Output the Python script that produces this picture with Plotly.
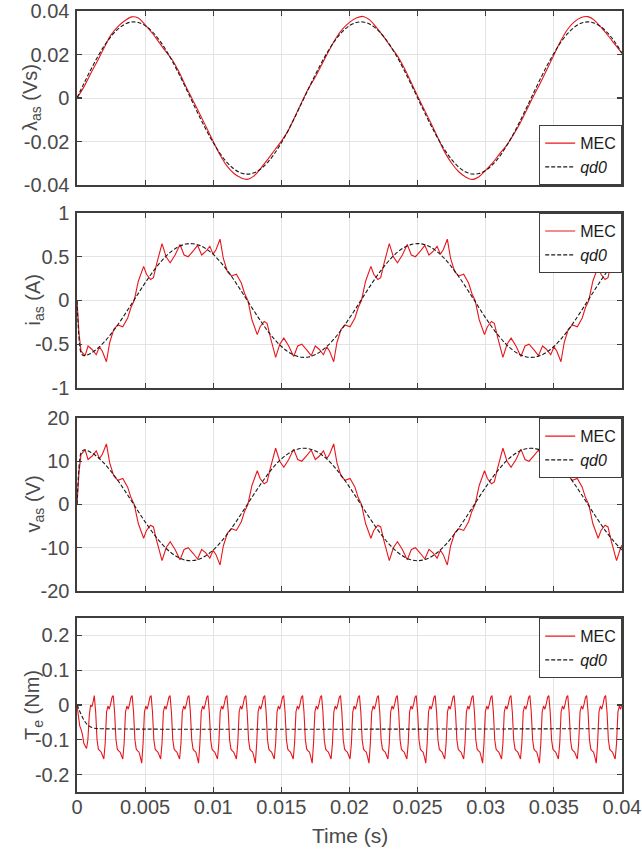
import plotly.graph_objects as go

# ---------------- data ----------------
T_FLUX = [0.0, 0.0005, 0.001, 0.0015, 0.002, 0.0025, 0.003, 0.0035, 0.004, 0.0045, 0.005, 0.0055, 0.006, 0.0065,
          0.007, 0.0075, 0.008, 0.0085, 0.009, 0.0095, 0.01, 0.0105, 0.011, 0.0115, 0.012, 0.0125, 0.013, 0.0135,
          0.014, 0.0145, 0.015, 0.0155, 0.016, 0.0165, 0.017, 0.0175, 0.018, 0.0185, 0.019, 0.0195, 0.02, 0.0205,
          0.021, 0.0215, 0.022, 0.0225, 0.023, 0.0235, 0.024, 0.0245, 0.025, 0.0255, 0.026, 0.0265, 0.027, 0.0275,
          0.028, 0.0285, 0.029, 0.0295, 0.03, 0.0305, 0.031, 0.0315, 0.032, 0.0325, 0.033, 0.0335, 0.034, 0.0345,
          0.035, 0.0355, 0.036, 0.0365, 0.037, 0.0375, 0.038, 0.0385, 0.039, 0.0395, 0.04]

LAMBDA_QD0 = [0, 0.00656, 0.01288, 0.01875, 0.02396, 0.02832, 0.03167, 0.0339, 0.03493, 0.03472, 0.03329, 0.03067,
              0.02697, 0.02231, 0.01686, 0.01082, 0.00439, -0.0022, -0.0087, -0.0149, -0.02057, -0.02552, -0.02955,
              -0.03254, -0.03438, -0.035, -0.03438, -0.03254, -0.02955, -0.02552, -0.02057, -0.0149, -0.0087,
              -0.0022, 0.00439, 0.01082, 0.01686, 0.02231, 0.02697, 0.03067, 0.03329, 0.03472, 0.03493, 0.0339,
              0.03167, 0.02832, 0.02396, 0.01875, 0.01288, 0.00656, 0.0, -0.00656, -0.01288, -0.01875, -0.02396,
              -0.02832, -0.03167, -0.0339, -0.03493, -0.03472, -0.03329, -0.03067, -0.02697, -0.02231, -0.01686,
              -0.01082, -0.00439, 0.0022, 0.0087, 0.0149, 0.02057, 0.02552, 0.02955, 0.03254, 0.03438, 0.035,
              0.03438, 0.03254, 0.02955, 0.02552, 0.02057]

LAMBDA_MEC = [0, 0.005, 0.0112, 0.017, 0.0232, 0.029, 0.0328, 0.0355, 0.0373, 0.0368, 0.0336, 0.03, 0.0258, 0.0215,
              0.0175, 0.0118, 0.0052, -0.001, -0.0072, -0.0135, -0.02, -0.0262, -0.0312, -0.0346, -0.0366, -0.0374,
              -0.0358, -0.0322, -0.0282, -0.024, -0.0198, -0.015, -0.0085, -0.0018, 0.0045, 0.0098, 0.0158, 0.0218,
              0.0275, 0.0318, 0.0348, 0.0368, 0.0375, 0.0358, 0.0322, 0.0282, 0.0238, 0.0195, 0.014, 0.0075, 0.0008,
              -0.0055, -0.0118, -0.0185, -0.025, -0.03, -0.0338, -0.0362, -0.0375, -0.0362, -0.0332, -0.0298,
              -0.0258, -0.022, -0.0172, -0.0118, -0.0055, 0.0008, 0.0068, 0.0132, 0.0198, 0.0262, 0.0315, 0.035,
              0.037, 0.0374, 0.0356, 0.0322, 0.0285, 0.0245, 0.0205]

T_QD_IV = [0.0, 0.0001, 0.0002, 0.0003, 0.0005, 0.001, 0.0015, 0.002, 0.0025, 0.003, 0.0035, 0.004, 0.0045, 0.005,
           0.0055, 0.006, 0.0065, 0.007, 0.0075, 0.008, 0.0085, 0.009, 0.0095, 0.01, 0.0105, 0.011, 0.0115, 0.012,
           0.0125, 0.013, 0.0135, 0.014, 0.0145, 0.015, 0.0155, 0.016, 0.0165, 0.017, 0.0175, 0.018, 0.0185, 0.019,
           0.0195, 0.02, 0.0205, 0.021, 0.0215, 0.022, 0.0225, 0.023, 0.0235, 0.024, 0.0245, 0.025, 0.0255, 0.026,
           0.0265, 0.027, 0.0275, 0.028, 0.0285, 0.029, 0.0295, 0.03, 0.0305, 0.031, 0.0315, 0.032, 0.0325, 0.033,
           0.0335, 0.034, 0.0345, 0.035, 0.0355, 0.036, 0.0365, 0.037, 0.0375, 0.038, 0.0385, 0.039, 0.0395, 0.04]

I_QD0 = [0, -0.32, -0.52, -0.6, -0.63, -0.6044, -0.5488, -0.4739, -0.3821, -0.2768, -0.1617, -0.0408, 0.0814,
         0.2009, 0.3132, 0.4143, 0.5008, 0.5696, 0.6182, 0.6449, 0.6487, 0.6296, 0.5881, 0.5259, 0.4449, 0.3483,
         0.2393, 0.1218, 0, -0.1218, -0.2393, -0.3483, -0.4449, -0.5259, -0.5881, -0.6296, -0.6487, -0.6449,
         -0.6182, -0.5696, -0.5008, -0.4143, -0.3132, -0.2009, -0.0814, 0.0408, 0.1617, 0.2768, 0.3821, 0.4739,
         0.5488, 0.6044, 0.6385, 0.65, 0.6385, 0.6044, 0.5488, 0.4739, 0.3821, 0.2768, 0.1617, 0.0408, -0.0814,
         -0.2009, -0.3132, -0.4143, -0.5008, -0.5696, -0.6182, -0.6449, -0.6487, -0.6296, -0.5881, -0.5259,
         -0.4449, -0.3483, -0.2393, -0.1218, 0, 0.1218, 0.2393, 0.3483, 0.4449, 0.5259]

V_QD0 = [0, 6.4, 10.4, 12.0, 12.6, 12.09, 10.98, 9.48, 7.64, 5.54, 3.23, 0.82, -1.63, -4.02, -6.26, -8.29, -10.02,
         -11.39, -12.36, -12.9, -12.97, -12.59, -11.76, -10.52, -8.9, -6.97, -4.79, -2.44, 0, 2.44, 4.79, 6.97, 8.9,
         10.52, 11.76, 12.59, 12.97, 12.9, 12.36, 11.39, 10.02, 8.29, 6.26, 4.02, 1.63, -0.82, -3.23, -5.54, -7.64,
         -9.48, -10.98, -12.09, -12.77, -13.0, -12.77, -12.09, -10.98, -9.48, -7.64, -5.54, -3.23, -0.82, 1.63,
         4.02, 6.26, 8.29, 10.02, 11.39, 12.36, 12.9, 12.97, 12.59, 11.76, 10.52, 8.9, 6.97, 4.79, 2.44, 0, -2.44,
         -4.79, -6.97, -8.9, -10.52]

T_MEC_IV = [0.0, 0.00015, 0.0003, 0.0006, 0.00081, 0.00111, 0.00141, 0.00165, 0.00186, 0.00216, 0.0024, 0.0027,
            0.003, 0.00336, 0.00372, 0.00396,
            0.0042, 0.0045, 0.00489, 0.0051, 0.0054, 0.00561, 0.00585, 0.00624, 0.00654, 0.00684, 0.0072, 0.00756,
            0.00786, 0.00816, 0.00855, 0.00885, 0.00915, 0.00945, 0.00975, 0.00999, 0.0102, 0.0105, 0.01074,
            0.01104, 0.01134, 0.0117, 0.01206, 0.0123,
            0.01254, 0.01284, 0.01323, 0.01344, 0.01374, 0.01395, 0.01419, 0.01458, 0.01488, 0.01518, 0.01554,
            0.0159, 0.0162, 0.0165, 0.01689, 0.01719, 0.01749, 0.01779, 0.01809, 0.01833, 0.01854, 0.01884,
            0.01908, 0.01938, 0.01968, 0.02004, 0.0204, 0.02064,
            0.02088, 0.02118, 0.02157, 0.02178, 0.02208, 0.02229, 0.02253, 0.02292, 0.02322, 0.02352, 0.02388,
            0.02424, 0.02454, 0.02484, 0.02523, 0.02553, 0.02583, 0.02613, 0.02643, 0.02667, 0.02688, 0.02718,
            0.02742, 0.02772, 0.02802, 0.02838, 0.02874, 0.02898,
            0.02922, 0.02952, 0.02991, 0.03012, 0.03042, 0.03063, 0.03087, 0.03126, 0.03156, 0.03186, 0.03222,
            0.03258, 0.03288, 0.03318, 0.03357, 0.03387, 0.03417, 0.03447, 0.03477, 0.03501, 0.03522, 0.03552,
            0.03576, 0.03606, 0.03636, 0.03672, 0.03708, 0.03732,
            0.03756, 0.03786, 0.03825, 0.03846, 0.03876, 0.03897, 0.03921, 0.0396, 0.0399, 0.04]

I_MEC = [0, -0.38, -0.58, -0.63, -0.52, -0.56, -0.62, -0.53, -0.58, -0.70, -0.48, -0.33, -0.28, -0.30, -0.20, -0.08,
         0, 0.22, 0.39, 0.30, 0.24, 0.26, 0.42, 0.65, 0.50, 0.43, 0.52, 0.64, 0.52, 0.50, 0.57, 0.63, 0.52, 0.56,
         0.62, 0.53, 0.58, 0.70, 0.48, 0.33, 0.28, 0.30, 0.20, 0.08,
         0, -0.22, -0.39, -0.30, -0.24, -0.26, -0.42, -0.65, -0.50, -0.43, -0.52, -0.64, -0.52, -0.50, -0.57,
         -0.63, -0.52, -0.56, -0.62, -0.53, -0.58, -0.70, -0.48, -0.33, -0.28, -0.30, -0.20, -0.08,
         0, 0.22, 0.39, 0.30, 0.24, 0.26, 0.42, 0.65, 0.50, 0.43, 0.52, 0.64, 0.52, 0.50, 0.57, 0.63, 0.52, 0.56,
         0.62, 0.53, 0.58, 0.70, 0.48, 0.33, 0.28, 0.30, 0.20, 0.08,
         0, -0.22, -0.39, -0.30, -0.24, -0.26, -0.42, -0.65, -0.50, -0.43, -0.52, -0.64, -0.52, -0.50, -0.57,
         -0.63, -0.52, -0.56, -0.62, -0.53, -0.58, -0.70, -0.48, -0.33, -0.28, -0.30, -0.20, -0.08,
         0, 0.22, 0.39, 0.30, 0.24, 0.26, 0.42, 0.65, 0.50, 0.47]

V_MEC = [0, 7.6, 11.6, 12.6, 10.4, 11.2, 12.4, 10.6, 11.6, 14.0, 9.6, 6.6, 5.6, 6.0, 4.0, 1.6,
         0, -4.4, -7.8, -6.0, -4.8, -5.2, -8.4, -13.0, -10.0, -8.6, -10.4, -12.8, -10.4, -10.0, -11.4, -12.6,
         -10.4, -11.2, -12.4, -10.6, -11.6, -14.0, -9.6, -6.6, -5.6, -6.0, -4.0, -1.6,
         0, 4.4, 7.8, 6.0, 4.8, 5.2, 8.4, 13.0, 10.0, 8.6, 10.4, 12.8, 10.4, 10.0, 11.4, 12.6, 10.4, 11.2, 12.4,
         10.6, 11.6, 14.0, 9.6, 6.6, 5.6, 6.0, 4.0, 1.6,
         0, -4.4, -7.8, -6.0, -4.8, -5.2, -8.4, -13.0, -10.0, -8.6, -10.4, -12.8, -10.4, -10.0, -11.4, -12.6,
         -10.4, -11.2, -12.4, -10.6, -11.6, -14.0, -9.6, -6.6, -5.6, -6.0, -4.0, -1.6,
         0, 4.4, 7.8, 6.0, 4.8, 5.2, 8.4, 13.0, 10.0, 8.6, 10.4, 12.8, 10.4, 10.0, 11.4, 12.6, 10.4, 11.2, 12.4,
         10.6, 11.6, 14.0, 9.6, 6.6, 5.6, 6.0, 4.0, 1.6,
         0, -4.4, -7.8, -6.0, -4.8, -5.2, -8.4, -13.0, -10.0, -9.4]

T_TE_QD0 = [0.0, 0.0001, 0.0002, 0.0004, 0.0006, 0.0008, 0.001, 0.0013, 0.0016, 0.04]
TE_QD0 = [0, -0.008, -0.018, -0.035, -0.049, -0.058, -0.063, -0.067, -0.068, -0.068]

T_TE_MEC = [
    0.0, 0.0001, 0.0002, 0.0003, 0.0004, 0.0005, 0.0006, 0.0007, 0.0008, 0.0009, 0.001, 0.0011, 0.0012,
    0.00127, 0.00137, 0.00147, 0.00157, 0.00167, 0.00177, 0.00187, 0.00197, 0.00207, 0.00217, 0.00227, 0.00237, 0.00247, 0.00257,
    0.00266, 0.00276, 0.00286, 0.00296, 0.00306, 0.00316, 0.00326, 0.00336, 0.00346, 0.00356, 0.00366, 0.00376, 0.00386, 0.00396,
    0.00405, 0.00415, 0.00425, 0.00435, 0.00445, 0.00455, 0.00465, 0.00475, 0.00485, 0.00495, 0.00505, 0.00515, 0.00525, 0.00535,
    0.00544, 0.00554, 0.00564, 0.00574, 0.00584, 0.00594, 0.00604, 0.00614, 0.00624, 0.00634, 0.00644, 0.00654, 0.00664, 0.00674,
    0.00683, 0.00693, 0.00703, 0.00713, 0.00723, 0.00733, 0.00743, 0.00753, 0.00763, 0.00773, 0.00783, 0.00793, 0.00803, 0.00813,
    0.00822, 0.00832, 0.00842, 0.00852, 0.00862, 0.00872, 0.00882, 0.00892, 0.00902, 0.00912, 0.00922, 0.00932, 0.00942, 0.00952,
    0.00961, 0.00971, 0.00981, 0.00991, 0.01001, 0.01011, 0.01021, 0.01031, 0.01041, 0.01051, 0.01061, 0.01071, 0.01081, 0.01091,
    0.01100, 0.01110, 0.01120, 0.01130, 0.01140, 0.01150, 0.01160, 0.01170, 0.01180, 0.01190, 0.01200, 0.01210, 0.01220, 0.01230,
    0.01239, 0.01249, 0.01259, 0.01269, 0.01279, 0.01289, 0.01299, 0.01309, 0.01319, 0.01329, 0.01339, 0.01349, 0.01359, 0.01369,
    0.01378, 0.01388, 0.01398, 0.01408, 0.01418, 0.01428, 0.01438, 0.01448, 0.01458, 0.01468, 0.01478, 0.01488, 0.01498, 0.01508,
    0.01517, 0.01527, 0.01537, 0.01547, 0.01557, 0.01567, 0.01577, 0.01587, 0.01597, 0.01607, 0.01617, 0.01627, 0.01637, 0.01647,
    0.01656, 0.01666, 0.01676, 0.01686, 0.01696, 0.01706, 0.01716, 0.01726, 0.01736, 0.01746, 0.01756, 0.01766, 0.01776, 0.01786,
    0.01795, 0.01805, 0.01815, 0.01825, 0.01835, 0.01845, 0.01855, 0.01865, 0.01875, 0.01885, 0.01895, 0.01905, 0.01915, 0.01925,
    0.01934, 0.01944, 0.01954, 0.01964, 0.01974, 0.01984, 0.01994, 0.02004, 0.02014, 0.02024, 0.02034, 0.02044, 0.02054, 0.02064,
    0.02073, 0.02083, 0.02093, 0.02103, 0.02113, 0.02123, 0.02133, 0.02143, 0.02153, 0.02163, 0.02173, 0.02183, 0.02193, 0.02203,
    0.02212, 0.02222, 0.02232, 0.02242, 0.02252, 0.02262, 0.02272, 0.02282, 0.02292, 0.02302, 0.02312, 0.02322, 0.02332, 0.02342,
    0.02351, 0.02361, 0.02371, 0.02381, 0.02391, 0.02401, 0.02411, 0.02421, 0.02431, 0.02441, 0.02451, 0.02461, 0.02471, 0.02481,
    0.02490, 0.02500, 0.02510, 0.02520, 0.02530, 0.02540, 0.02550, 0.02560, 0.02570, 0.02580, 0.02590, 0.02600, 0.02610, 0.02620,
    0.02629, 0.02639, 0.02649, 0.02659, 0.02669, 0.02679, 0.02689, 0.02699, 0.02709, 0.02719, 0.02729, 0.02739, 0.02749, 0.02759,
    0.02768, 0.02778, 0.02788, 0.02798, 0.02808, 0.02818, 0.02828, 0.02838, 0.02848, 0.02858, 0.02868, 0.02878, 0.02888, 0.02898,
    0.02907, 0.02917, 0.02927, 0.02937, 0.02947, 0.02957, 0.02967, 0.02977, 0.02987, 0.02997, 0.03007, 0.03017, 0.03027, 0.03037,
    0.03046, 0.03056, 0.03066, 0.03076, 0.03086, 0.03096, 0.03106, 0.03116, 0.03126, 0.03136, 0.03146, 0.03156, 0.03166, 0.03176,
    0.03185, 0.03195, 0.03205, 0.03215, 0.03225, 0.03235, 0.03245, 0.03255, 0.03265, 0.03275, 0.03285, 0.03295, 0.03305, 0.03315,
    0.03324, 0.03334, 0.03344, 0.03354, 0.03364, 0.03374, 0.03384, 0.03394, 0.03404, 0.03414, 0.03424, 0.03434, 0.03444, 0.03454,
    0.03463, 0.03473, 0.03483, 0.03493, 0.03503, 0.03513, 0.03523, 0.03533, 0.03543, 0.03553, 0.03563, 0.03573, 0.03583, 0.03593,
    0.03602, 0.03612, 0.03622, 0.03632, 0.03642, 0.03652, 0.03662, 0.03672, 0.03682, 0.03692, 0.03702, 0.03712, 0.03722, 0.03732,
    0.03741, 0.03751, 0.03761, 0.03771, 0.03781, 0.03791, 0.03801, 0.03811, 0.03821, 0.03831, 0.03841, 0.03851, 0.03861, 0.03871,
    0.03880, 0.03890, 0.03900, 0.03910, 0.03920, 0.03930, 0.03940, 0.03950, 0.03960, 0.03970, 0.03980, 0.03990, 0.04000,
]

TE_MEC = [
    0, -0.03, -0.06, -0.07, -0.085, -0.11, -0.12, -0.125, -0.10, -0.03, 0.0, -0.005, 0.012,
    0.027, -0.02, -0.10, -0.127, -0.132, -0.135, -0.145, -0.155, -0.11, -0.02, -0.003, -0.012, 0.003, 0.022,
    0.027, -0.02, -0.10, -0.127, -0.132, -0.135, -0.145, -0.155, -0.11, -0.02, -0.003, -0.012, 0.003, 0.022,
    0.027, -0.02, -0.10, -0.127, -0.132, -0.135, -0.150, -0.167, -0.11, -0.02, -0.003, -0.012, 0.003, 0.022,
    0.027, -0.02, -0.10, -0.127, -0.132, -0.135, -0.145, -0.155, -0.11, -0.02, -0.003, -0.012, 0.003, 0.022,
    0.027, -0.02, -0.10, -0.127, -0.132, -0.135, -0.145, -0.155, -0.11, -0.02, -0.003, -0.012, 0.003, 0.022,
    0.027, -0.02, -0.10, -0.127, -0.132, -0.135, -0.150, -0.167, -0.11, -0.02, -0.003, -0.012, 0.003, 0.022,
    0.027, -0.02, -0.10, -0.127, -0.132, -0.135, -0.145, -0.155, -0.11, -0.02, -0.003, -0.012, 0.003, 0.022,
    0.027, -0.02, -0.10, -0.127, -0.132, -0.135, -0.145, -0.155, -0.11, -0.02, -0.003, -0.012, 0.003, 0.022,
    0.027, -0.02, -0.10, -0.127, -0.132, -0.135, -0.150, -0.167, -0.11, -0.02, -0.003, -0.012, 0.003, 0.022,
    0.027, -0.02, -0.10, -0.127, -0.132, -0.135, -0.145, -0.155, -0.11, -0.02, -0.003, -0.012, 0.003, 0.022,
    0.027, -0.02, -0.10, -0.127, -0.132, -0.135, -0.145, -0.155, -0.11, -0.02, -0.003, -0.012, 0.003, 0.022,
    0.027, -0.02, -0.10, -0.127, -0.132, -0.135, -0.150, -0.167, -0.11, -0.02, -0.003, -0.012, 0.003, 0.022,
    0.027, -0.02, -0.10, -0.127, -0.132, -0.135, -0.145, -0.155, -0.11, -0.02, -0.003, -0.012, 0.003, 0.022,
    0.027, -0.02, -0.10, -0.127, -0.132, -0.135, -0.145, -0.155, -0.11, -0.02, -0.003, -0.012, 0.003, 0.022,
    0.027, -0.02, -0.10, -0.127, -0.132, -0.135, -0.150, -0.167, -0.11, -0.02, -0.003, -0.012, 0.003, 0.022,
    0.027, -0.02, -0.10, -0.127, -0.132, -0.135, -0.145, -0.155, -0.11, -0.02, -0.003, -0.012, 0.003, 0.022,
    0.027, -0.02, -0.10, -0.127, -0.132, -0.135, -0.145, -0.155, -0.11, -0.02, -0.003, -0.012, 0.003, 0.022,
    0.027, -0.02, -0.10, -0.127, -0.132, -0.135, -0.150, -0.167, -0.11, -0.02, -0.003, -0.012, 0.003, 0.022,
    0.027, -0.02, -0.10, -0.127, -0.132, -0.135, -0.145, -0.155, -0.11, -0.02, -0.003, -0.012, 0.003, 0.022,
    0.027, -0.02, -0.10, -0.127, -0.132, -0.135, -0.145, -0.155, -0.11, -0.02, -0.003, -0.012, 0.003, 0.022,
    0.027, -0.02, -0.10, -0.127, -0.132, -0.135, -0.150, -0.167, -0.11, -0.02, -0.003, -0.012, 0.003, 0.022,
    0.027, -0.02, -0.10, -0.127, -0.132, -0.135, -0.145, -0.155, -0.11, -0.02, -0.003, -0.012, 0.003, 0.022,
    0.027, -0.02, -0.10, -0.127, -0.132, -0.135, -0.145, -0.155, -0.11, -0.02, -0.003, -0.012, 0.003, 0.022,
    0.027, -0.02, -0.10, -0.127, -0.132, -0.135, -0.150, -0.167, -0.11, -0.02, -0.003, -0.012, 0.003, 0.022,
    0.027, -0.02, -0.10, -0.127, -0.132, -0.135, -0.145, -0.155, -0.11, -0.02, -0.003, -0.012, 0.003, 0.022,
    0.027, -0.02, -0.10, -0.127, -0.132, -0.135, -0.145, -0.155, -0.11, -0.02, -0.003, -0.012, 0.003, 0.022,
    0.027, -0.02, -0.10, -0.127, -0.132, -0.135, -0.150, -0.167, -0.11, -0.02, -0.003, -0.012, 0.003, 0.022,
    0.027, -0.02, -0.10, -0.127, -0.132, -0.135, -0.145, -0.155, -0.11, -0.02, -0.003, -0.012, 0.003,
]

X_TICKS = [0, 0.005, 0.01, 0.015, 0.02, 0.025, 0.03, 0.035, 0.04]
X_TICK_LABELS = ["0", "0.005", "0.01", "0.015", "0.02", "0.025", "0.03", "0.035", "0.04"]
Y1_TICKS = [-0.04, -0.02, 0, 0.02, 0.04]
Y1_LABELS = ["-0.04", "-0.02", "0", "0.02", "0.04"]
Y2_TICKS = [-1, -0.5, 0, 0.5, 1]
Y2_LABELS = ["-1", "-0.5", "0", "0.5", "1"]
Y3_TICKS = [-20, -10, 0, 10, 20]
Y3_LABELS = ["-20", "-10", "0", "10", "20"]
Y4_TICKS = [-0.2, -0.1, 0, 0.1, 0.2]
Y4_LABELS = ["-0.2", "-0.1", "0", "0.1", "0.2"]

Y_TITLES = ["λ<sub>as</sub> (Vs)", "i<sub>as</sub> (A)", "v<sub>as</sub> (V)", "T<sub>e</sub> (Nm)"]
X_TITLE = "Time (s)"

# ---------------- figure ----------------
FONT = "Liberation Sans, Arial, Helvetica, sans-serif"
RED = "#e8161b"
FRAME = "#3d3d3d"
TXT = "#4a4a4a"
GRID = "#e3e3e3"
ML, MR, MT, MB = 77, 20, 11, 61
PW = 642 - ML - MR
PH = 853 - MT - MB

fig = go.Figure()

series = [
    (T_FLUX, LAMBDA_MEC, T_FLUX, LAMBDA_QD0),
    (T_MEC_IV, I_MEC, T_QD_IV, I_QD0),
    (T_MEC_IV, V_MEC, T_QD_IV, V_QD0),
    (T_TE_MEC, TE_MEC, T_TE_QD0, TE_QD0),
]
for i, (tm, ym, tq, yq) in enumerate(series):
    n = "" if i == 0 else str(i + 1)
    leg = "legend" if i == 0 else "legend" + str(i + 1)
    mshape = "spline" if i == 0 else "linear"
    fig.add_trace(go.Scatter(x=tm, y=ym, mode="lines", name="MEC",
                             line=dict(color=RED, width=1.1, shape=mshape),
                             xaxis="x" + n, yaxis="y" + n, legend=leg))
    fig.add_trace(go.Scatter(x=tq, y=yq, mode="lines", name="<i>qd0</i>",
                             line=dict(color="#1a1a1a", width=1.1, dash="4px,2px", shape="spline"),
                             xaxis="x" + n, yaxis="y" + n, legend=leg))

domains = [[0.7772, 1.0], [0.5173, 0.7414], [0.2574, 0.4789], [0.0, 0.2228]]
yticks = [(Y1_TICKS, Y1_LABELS, [-0.04, 0.04]), (Y2_TICKS, Y2_LABELS, [-1, 1]),
          (Y3_TICKS, Y3_LABELS, [-20, 20]), (Y4_TICKS, Y4_LABELS, [-0.25, 0.25])]

axis_common = dict(showline=True, linecolor=FRAME, linewidth=1.6, mirror="ticks",
                   ticks="inside", ticklen=5, tickwidth=1.2, tickcolor=FRAME,
                   showgrid=True, gridcolor=GRID, gridwidth=1, zeroline=False, automargin=False,
                   ticklabeloverflow="allow",
                   tickfont=dict(family=FONT, size=20, color=TXT))

layout = dict(width=642, height=853, paper_bgcolor="white", plot_bgcolor="white",
              margin=dict(l=ML, r=MR, t=MT, b=MB), showlegend=True, hovermode=False,
              font=dict(family=FONT, color=TXT))

title_x = [-(ML - 31) / PW, -(ML - 34) / PW, -(ML - 34) / PW, -(ML - 34) / PW]
annotations = []
for i in range(4):
    n = "" if i == 0 else str(i + 1)
    tv, tl, rg = yticks[i]
    xa = dict(axis_common, domain=[0, 1], range=[0, 0.04], anchor="y" + n,
              tickvals=X_TICKS, ticktext=X_TICK_LABELS, showticklabels=(i == 3),
              ticklabelstandoff=-4)
    if i > 0:
        xa["matches"] = "x"
    layout["xaxis" + n] = xa
    layout["yaxis" + n] = dict(axis_common, domain=domains[i], range=rg, anchor="x" + n,
                               tickvals=tv, ticktext=tl, ticklabelstandoff=2)
    annotations.append(dict(text=Y_TITLES[i], xref="paper", yref="paper", x=title_x[i],
                            y=(domains[i][0] + domains[i][1]) / 2, textangle=-90,
                            xanchor="center", yanchor="middle", showarrow=False,
                            font=dict(family=FONT, size=20, color=TXT)))
    leg = dict(x=1, xanchor="right", bgcolor="white", bordercolor=FRAME, borderwidth=1.2,
               font=dict(family=FONT, size=16, color="#1a1a1a"), tracegroupgap=0,
               itemwidth=30)
    if i == 0:
        leg.update(y=domains[0][0], yanchor="bottom")
    else:
        leg.update(y=domains[i][1], yanchor="top")
    layout["legend" if i == 0 else "legend" + str(i + 1)] = leg

annotations.append(dict(text=X_TITLE, xref="paper", yref="paper", x=0.5, y=-43 / PH,
                        xanchor="center", yanchor="middle", showarrow=False,
                        font=dict(family=FONT, size=21, color=TXT)))
layout["annotations"] = annotations
fig.update_layout(**layout)
fig.write_html("out.html", config={"displayModeBar": False, "staticPlot": True},
               post_script="document.body.style.margin='0px';document.body.style.overflow='hidden';")
